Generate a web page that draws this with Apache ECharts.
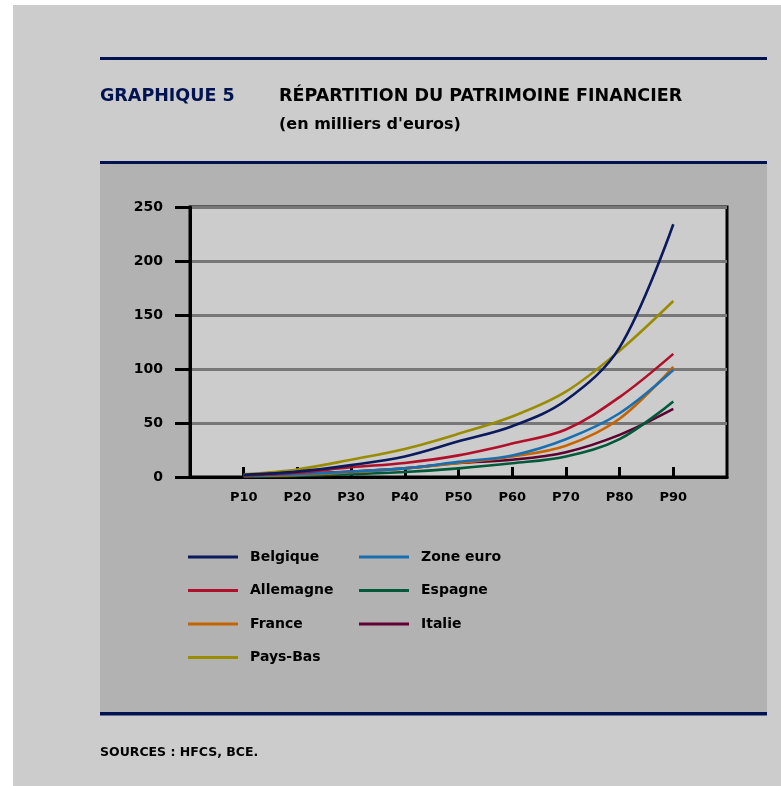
<!DOCTYPE html>
<html><head><meta charset="utf-8">
<script src="https://cdn.jsdelivr.net/npm/echarts@6/dist/echarts.min.js"></script>
<style>html,body{margin:0;padding:0;background:#fff}#c{width:781px;height:786px}</style>
</head><body><div id="c"></div>
<script>
const categories = ['', 'P10', 'P20', 'P30', 'P40', 'P50', 'P60', 'P70', 'P80', 'P90', ''];
const yTicks = [0, 50, 100, 150, 200, 250];
const belgique  = [2, 5, 11, 19, 33, 47, 71, 120, 234];
const paysBas   = [2.5, 7, 16, 26, 40, 56, 79, 117, 163];
const allemagne = [1.5, 4, 9, 13, 20, 31, 44, 74, 114];
const zoneEuro  = [1, 2.5, 5, 8, 14, 20, 35, 59, 99];
const france    = [1, 2, 4.5, 8, 13, 19, 29, 54, 102];
const italie    = [1.5, 3, 5, 8, 13, 16, 23, 39, 63];
const espagne   = [0.5, 1, 2.5, 4.6, 8, 12.7, 19, 35, 70];

const FONT = 'DejaVu Sans';
const NAVY = '#00124f';
const pad = a => [null].concat(a, [null]);
function mk(name, data, color) {
  return { name, type: 'line', data: pad(data), smooth: 0.35, showSymbol: false, symbol: 'none',
    lineStyle: { color, width: 2.6 }, itemStyle: { color }, connectNulls: false };
}
const series = [
  mk('Italie', italie, '#5e0030'),
  mk('Espagne', espagne, '#005a3a'),
  mk('France', france, '#c86400'),
  mk('Zone euro', zoneEuro, '#1a6fb0'),
  mk('Allemagne', allemagne, '#b0102a'),
  mk('Pays-Bas', paysBas, '#9a8c00'),
  mk('Belgique', belgique, '#0a1a5c')
];
const legendBase = { orient: 'vertical', icon: 'rect', itemWidth: 50, itemHeight: 3, itemGap: 19.5, padding: 0,
  textStyle: { fontFamily: FONT, fontWeight: 'bold', fontSize: 14, color: '#000', padding: [0, 0, 0, 7] },
  selectedMode: false };

const chart = echarts.init(document.getElementById('c'));
chart.setOption({
  animation: false,
  backgroundColor: '#ffffff',
  graphic: [
    { type: 'rect', z: -10, shape: { x: 13, y: 5, width: 768, height: 781 }, style: { fill: '#cccccc' } },
    { type: 'rect', z: -9, shape: { x: 100, y: 162, width: 667, height: 551 }, style: { fill: '#b2b2b2' } },
    { type: 'rect', z: -8, shape: { x: 100, y: 57, width: 667, height: 3 }, style: { fill: NAVY } },
    { type: 'rect', z: -8, shape: { x: 100, y: 161, width: 667, height: 3 }, style: { fill: NAVY } },
    { type: 'rect', z: -8, shape: { x: 100, y: 712, width: 667, height: 3.5 }, style: { fill: NAVY } },
    { type: 'text', left: 100, top: 87, style: { text: 'GRAPHIQUE 5', font: 'bold 17.5px "DejaVu Sans"', fill: NAVY } },
    { type: 'text', left: 279, top: 87, style: { text: 'RÉPARTITION DU PATRIMOINE FINANCIER', font: 'bold 17.5px "DejaVu Sans"', fill: '#000' } },
    { type: 'text', left: 279, top: 117, style: { text: "(en milliers d'euros)", font: 'bold 16px "DejaVu Sans"', fill: '#000' } },
    { type: 'text', left: 100, top: 746, style: { text: 'SOURCES : HFCS, BCE.', font: 'bold 12.5px "DejaVu Sans"', fill: '#000' } }
  ],
  grid: { left: 190, top: 207, width: 537, height: 270, show: true, backgroundColor: '#cccccc',
    borderColor: '#000', borderWidth: 3, containLabel: false },
  legend: [
    Object.assign({}, legendBase, { left: 188, top: 550, data: ['Belgique', 'Allemagne', 'France', 'Pays-Bas'] }),
    Object.assign({}, legendBase, { left: 359, top: 550, data: ['Zone euro', 'Espagne', 'Italie'] })
  ],
  xAxis: {
    type: 'category', data: categories, boundaryGap: false,
    axisLine: { lineStyle: { color: '#000', width: 3 } },
    axisTick: { inside: true, length: 10, lineStyle: { color: '#000', width: 3 },
      interval: (i, v) => v !== '' },
    axisLabel: { color: '#000', fontFamily: FONT, fontWeight: 'bold', fontSize: 13, margin: 14,
      interval: 0 },
    splitLine: { show: false }
  },
  yAxis: {
    type: 'value', min: yTicks[0], max: yTicks[yTicks.length - 1], interval: yTicks[1] - yTicks[0],
    axisLine: { show: true, lineStyle: { color: '#000', width: 3 } },
    axisTick: { show: true, length: 15, lineStyle: { color: '#000', width: 3 } },
    axisLabel: { color: '#000', fontFamily: FONT, fontWeight: 'bold', fontSize: 14, margin: 27 },
    splitLine: { show: true, lineStyle: { color: '#777777', width: 3 } }
  },
  series
});
</script></body></html>
